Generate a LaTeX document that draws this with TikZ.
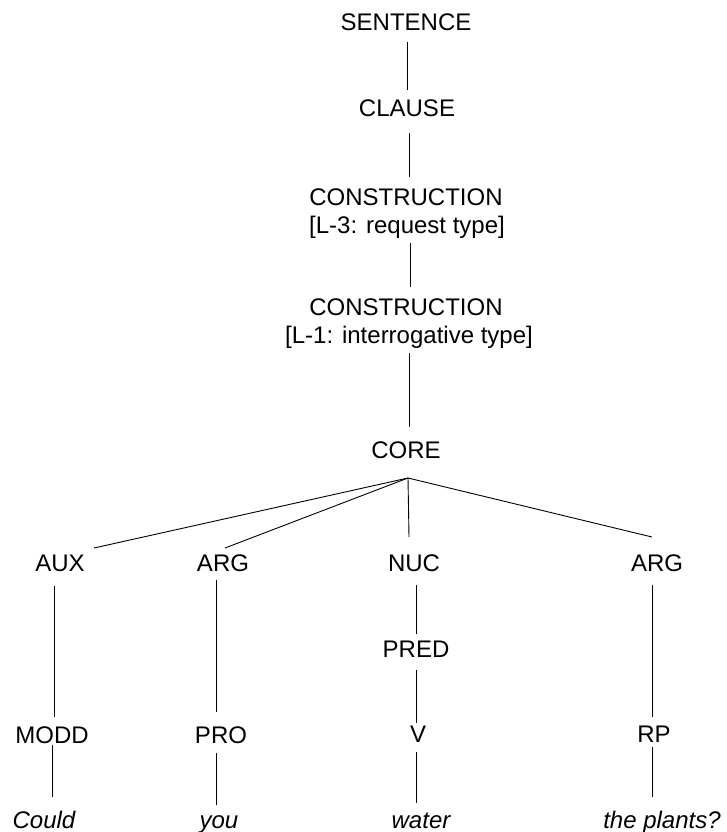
\documentclass[tikz,border=0pt]{standalone}
\usepackage{fontspec}
\setmainfont{Liberation Sans}
\begin{document}
\begin{tikzpicture}[x=1pt,y=-1pt,
  lab/.style={inner sep=0pt,anchor=base,font=\fontsize{24}{28}\selectfont},
  word/.style={lab,font=\fontsize{24}{28}\selectfont\itshape},
  edge/.style={line width=0.9pt,draw=black}]
\useasboundingbox (0,0) rectangle (727,832);
% upper spine
\node[lab] (sentence) at (406,31) {SENTENCE};
\node[lab] (clause) at (407,117) {CLAUSE};
\node[lab] (cons1) at (406,205) {CONSTRUCTION};
\node[lab] (req) at (407,233) {[L-3: request type]};
\node[lab] (cons2) at (406,315) {CONSTRUCTION};
\node[lab] (inter) at (409,343) {[L-1: interrogative type]};
\node[lab] (core) at (406,458) {CORE};
% row 1
\node[lab] (aux) at (60,571) {AUX};
\node[lab] (arg1) at (223,571) {ARG};
\node[lab] (nuc) at (414,571) {NUC};
\node[lab] (arg2) at (657,571) {ARG};
\node[lab] (pred) at (416,657) {PRED};
% row 2
\node[lab] (modd) at (52,743) {MODD};
\node[lab] (pro) at (221,743) {PRO};
\node[lab] (v) at (418,742) {V};
\node[lab] (rp) at (654,742) {RP};
% words
\node[word] (could) at (44,828) {Could};
\node[word] (you) at (219,828) {you};
\node[word] (water) at (421,828) {water};
\node[word] (plants) at (662,828) {the plants?};
% connectors
\draw[edge] ([shift={(1,11)}]sentence.base) -- ([shift={(0,-27)}]clause.base);
\draw[edge] ([shift={(2,16)}]clause.base) -- ([shift={(3,-28)}]cons1.base);
\draw[edge] ([shift={(3,10)}]req.base) -- ([shift={(4,-28)}]cons2.base);
\draw[edge] ([shift={(0,10)}]inter.base) -- ([shift={(3,-31)}]core.base);
\draw[edge] ([shift={(2,20)}]core.base) -- ([shift={(34,-23)}]aux.base);
\draw[edge] ([shift={(2,20)}]core.base) -- ([shift={(2,-23)}]arg1.base);
\draw[edge] ([shift={(2,20)}]core.base) -- ([shift={(-5,-34)}]nuc.base);
\draw[edge] ([shift={(2,20)}]core.base) -- ([shift={(-5,-34)}]arg2.base);
\draw[edge] ([shift={(-6,15)}]aux.base) -- ([shift={(2,-26)}]modd.base);
\draw[edge] ([shift={(-7,9)}]arg1.base) -- ([shift={(-5,-31)}]pro.base);
\draw[edge] ([shift={(2,14)}]nuc.base) -- ([shift={(0,-23)}]pred.base);
\draw[edge] ([shift={(0,13)}]pred.base) -- ([shift={(-2,-19)}]v.base);
\draw[edge] ([shift={(-5,14)}]arg2.base) -- ([shift={(-2,-25)}]rp.base);
\draw[edge] ([shift={(0,2)}]modd.base) -- ([shift={(8,-31)}]could.base);
\draw[edge] ([shift={(-5,10)}]pro.base) -- ([shift={(-3,-23)}]you.base);
\draw[edge] ([shift={(-2,10)}]v.base) -- ([shift={(-5,-25)}]water.base);
\draw[edge] ([shift={(-2,5)}]rp.base) -- ([shift={(-10,-31)}]plants.base);
\end{tikzpicture}
\end{document}
